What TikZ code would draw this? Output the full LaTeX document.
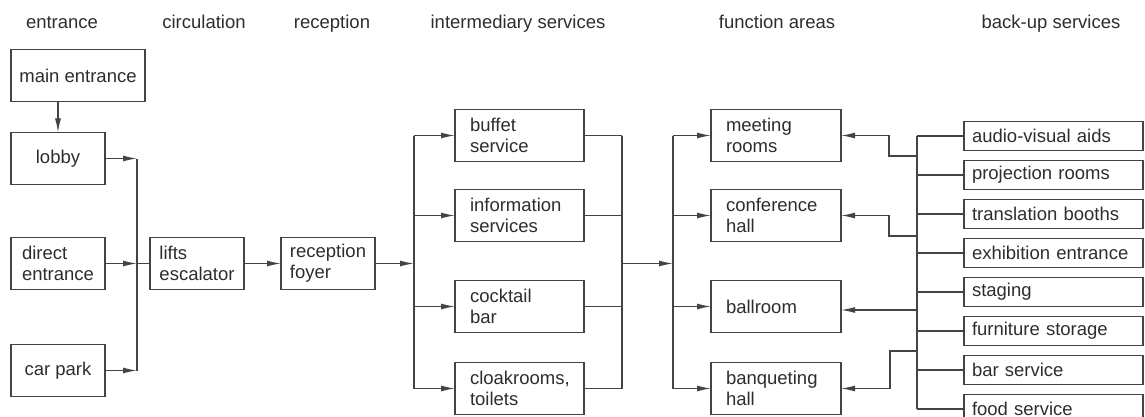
\documentclass[tikz,border=0pt]{standalone}
\usepackage{fontspec}
\setmainfont{Liberation Sans}
\usetikzlibrary{arrows.meta,positioning}
\definecolor{linegrey}{RGB}{68,68,68}
\definecolor{textgrey}{RGB}{45,45,45}
\tikzset{
	room/.style={
		rectangle,
		draw=linegrey,
		line width=1.3pt,
		minimum width=94pt,
		minimum height=52pt,
		inner sep=0pt,
		outer sep=0pt,
		align=left,
		text=textgrey,
		font=\fontsize{18.5}{21}\selectfont,
	},
	service/.style={
		room,
		text width=99pt,
		inner xsep=15pt,
	},
	area/.style={
		room,
		text width=100pt,
		inner xsep=15pt,
	},
	backup/.style={
		room,
		minimum height=29pt,
		text width=163pt,
		inner xsep=8pt,
	},
	heading/.style={
		anchor=base,
		text=textgrey,
		font=\fontsize{18.5}{21}\selectfont,
	},
	arc/.style={
		-{Latex[length=14pt,width=6pt]},
		line width=1.3pt,
		draw=linegrey,
	},
	link/.style={
		line width=1.3pt,
		draw=linegrey,
	},
}

\begin{document}
\begin{tikzpicture}[x=1pt,y=-1pt]
	\useasboundingbox (0,0) rectangle (1145,417);

	% column headings
	\node [heading] (hentrance) at (62,29) {entrance};
	\node [heading] (hcirc) at (204,29) {circulation};
	\node [heading] (hrecept) at (332,29) {reception};
	\node [heading] (hinter) at (518,29) {intermediary services};
	\node [heading] (hfunc) at (777,29) {function areas};
	\node [heading] (hbackup) at (1051,29) {back-up services};

	% entrance
	\node [
	  room,
	  minimum width=134pt,
	] (mainent) at (78,75.5) {main entrance};
	\node [
	  room,
	  below right=31pt and 0pt of mainent.south west
	] (lobby) {lobby};
	\node [
	  room,
	  below=53pt of lobby
	] (direct) {direct\\entrance};
	\node [
	  room,
	  below=55pt of direct
	] (carpark) {car park};

	% circulation and reception
	\node [
	  room,
	  right=45pt of direct
	] (lifts) {lifts\\escalator};
	\node [
	  room,
	  right=37pt of lifts
	] (recept) {reception\\foyer};

	% intermediary services
	\node [service] (buffet) at (519.5,135.5) {buffet\\service};
	\node [
	  service,
	  below=28pt of buffet
	] (info) {information\\services};
	\node [
	  service,
	  below=39pt of info
	] (cocktail) {cocktail\\bar};
	\node [
	  service,
	  below=30pt of cocktail
	] (cloak) {cloakrooms,\\toilets};

	% function areas
	\node [
	  area,
	  right=127pt of buffet
	] (meeting) {meeting\\rooms};
	\node [
	  area,
	  right=127pt of info
	] (confhall) {conference\\hall};
	\node [
	  area,
	  right=127pt of cocktail
	] (ballroom) {ballroom};
	\node [
	  area,
	  right=127pt of cloak
	] (banqhall) {banqueting\\hall};

	% back-up services
	\node [backup] (avaids) at (1053.5,136) {audio-visual aids};
	\node [backup, below=10pt of avaids] (projrooms) {projection rooms};
	\node [backup, below=10pt of projrooms] (transl) {translation booths};
	\node [backup, below=10pt of transl] (exhib) {exhibition entrance};
	\node [backup, below=10pt of exhib] (staging) {staging};
	\node [backup, below=10pt of staging] (furniture) {furniture storage};
	\node [backup, below=10pt of furniture] (barserv) {bar service};
	\node [backup, below=10pt of barserv] (foodserv) {food service};

	% bus lines
	\coordinate (b1) at (137,0);
	\coordinate (b2) at (414,0);
	\coordinate (b3) at (622,0);
	\coordinate (b4) at (673,0);
	\coordinate (b5) at (917,0);
	\coordinate (j1) at (917,156);
	\coordinate (j2) at (917,236);
	\coordinate (j3) at (917,310);
	\coordinate (j4) at (917,351);

	\draw[arc] (mainent.south -| lobby) -- (lobby);
	\draw[arc] (lobby) -- (lobby -| b1);
	\draw[arc] (direct) -- (direct -| b1);
	\draw[arc] (carpark) -- (carpark -| b1);
	\draw[link] (lobby -| b1) -- (carpark -| b1);
	\draw[link] (direct -| b1) -- (lifts);
	\draw[arc] (lifts) -- (recept);
	\draw[arc] (recept) -- (recept -| b2);

	\draw[link] (buffet -| b2) -- (cloak -| b2);
	\draw[arc] (buffet -| b2) -- (buffet);
	\draw[arc] (info -| b2) -- (info);
	\draw[arc] (cocktail -| b2) -- (cocktail);
	\draw[arc] (cloak -| b2) -- (cloak);

	\draw[link] (buffet) -- (buffet -| b3);
	\draw[link] (info) -- (info -| b3);
	\draw[link] (cocktail) -- (cocktail -| b3);
	\draw[link] (cloak) -- (cloak -| b3);
	\draw[link] (buffet -| b3) -- (cloak -| b3);
	\draw[arc] (recept -| b3) -- (recept -| b4);

	\draw[link] (meeting -| b4) -- (banqhall -| b4);
	\draw[arc] (meeting -| b4) -- (meeting);
	\draw[arc] (confhall -| b4) -- (confhall);
	\draw[arc] (ballroom -| b4) -- (ballroom);
	\draw[arc] (banqhall -| b4) -- (banqhall);

	\draw[link] (avaids -| b5) -- (foodserv -| b5);
	\draw[link] (avaids) -- (avaids -| b5);
	\draw[link] (projrooms) -- (projrooms -| b5);
	\draw[link] (transl) -- (transl -| b5);
	\draw[link] (exhib) -- (exhib -| b5);
	\draw[link] (staging) -- (staging -| b5);
	\draw[link] (furniture) -- (furniture -| b5);
	\draw[link] (barserv) -- (barserv -| b5);
	\draw[link] (foodserv) -- (foodserv -| b5);

	\draw[arc] (j1) -- ++(-28,0) |- (meeting);
	\draw[arc] (j2) -- ++(-28,0) |- (confhall);
	\draw[arc] (j3) -- (j3 -| ballroom.east);
	\draw[arc] (j4) -- ++(-27,0) |- (banqhall);
\end{tikzpicture}
\end{document}
